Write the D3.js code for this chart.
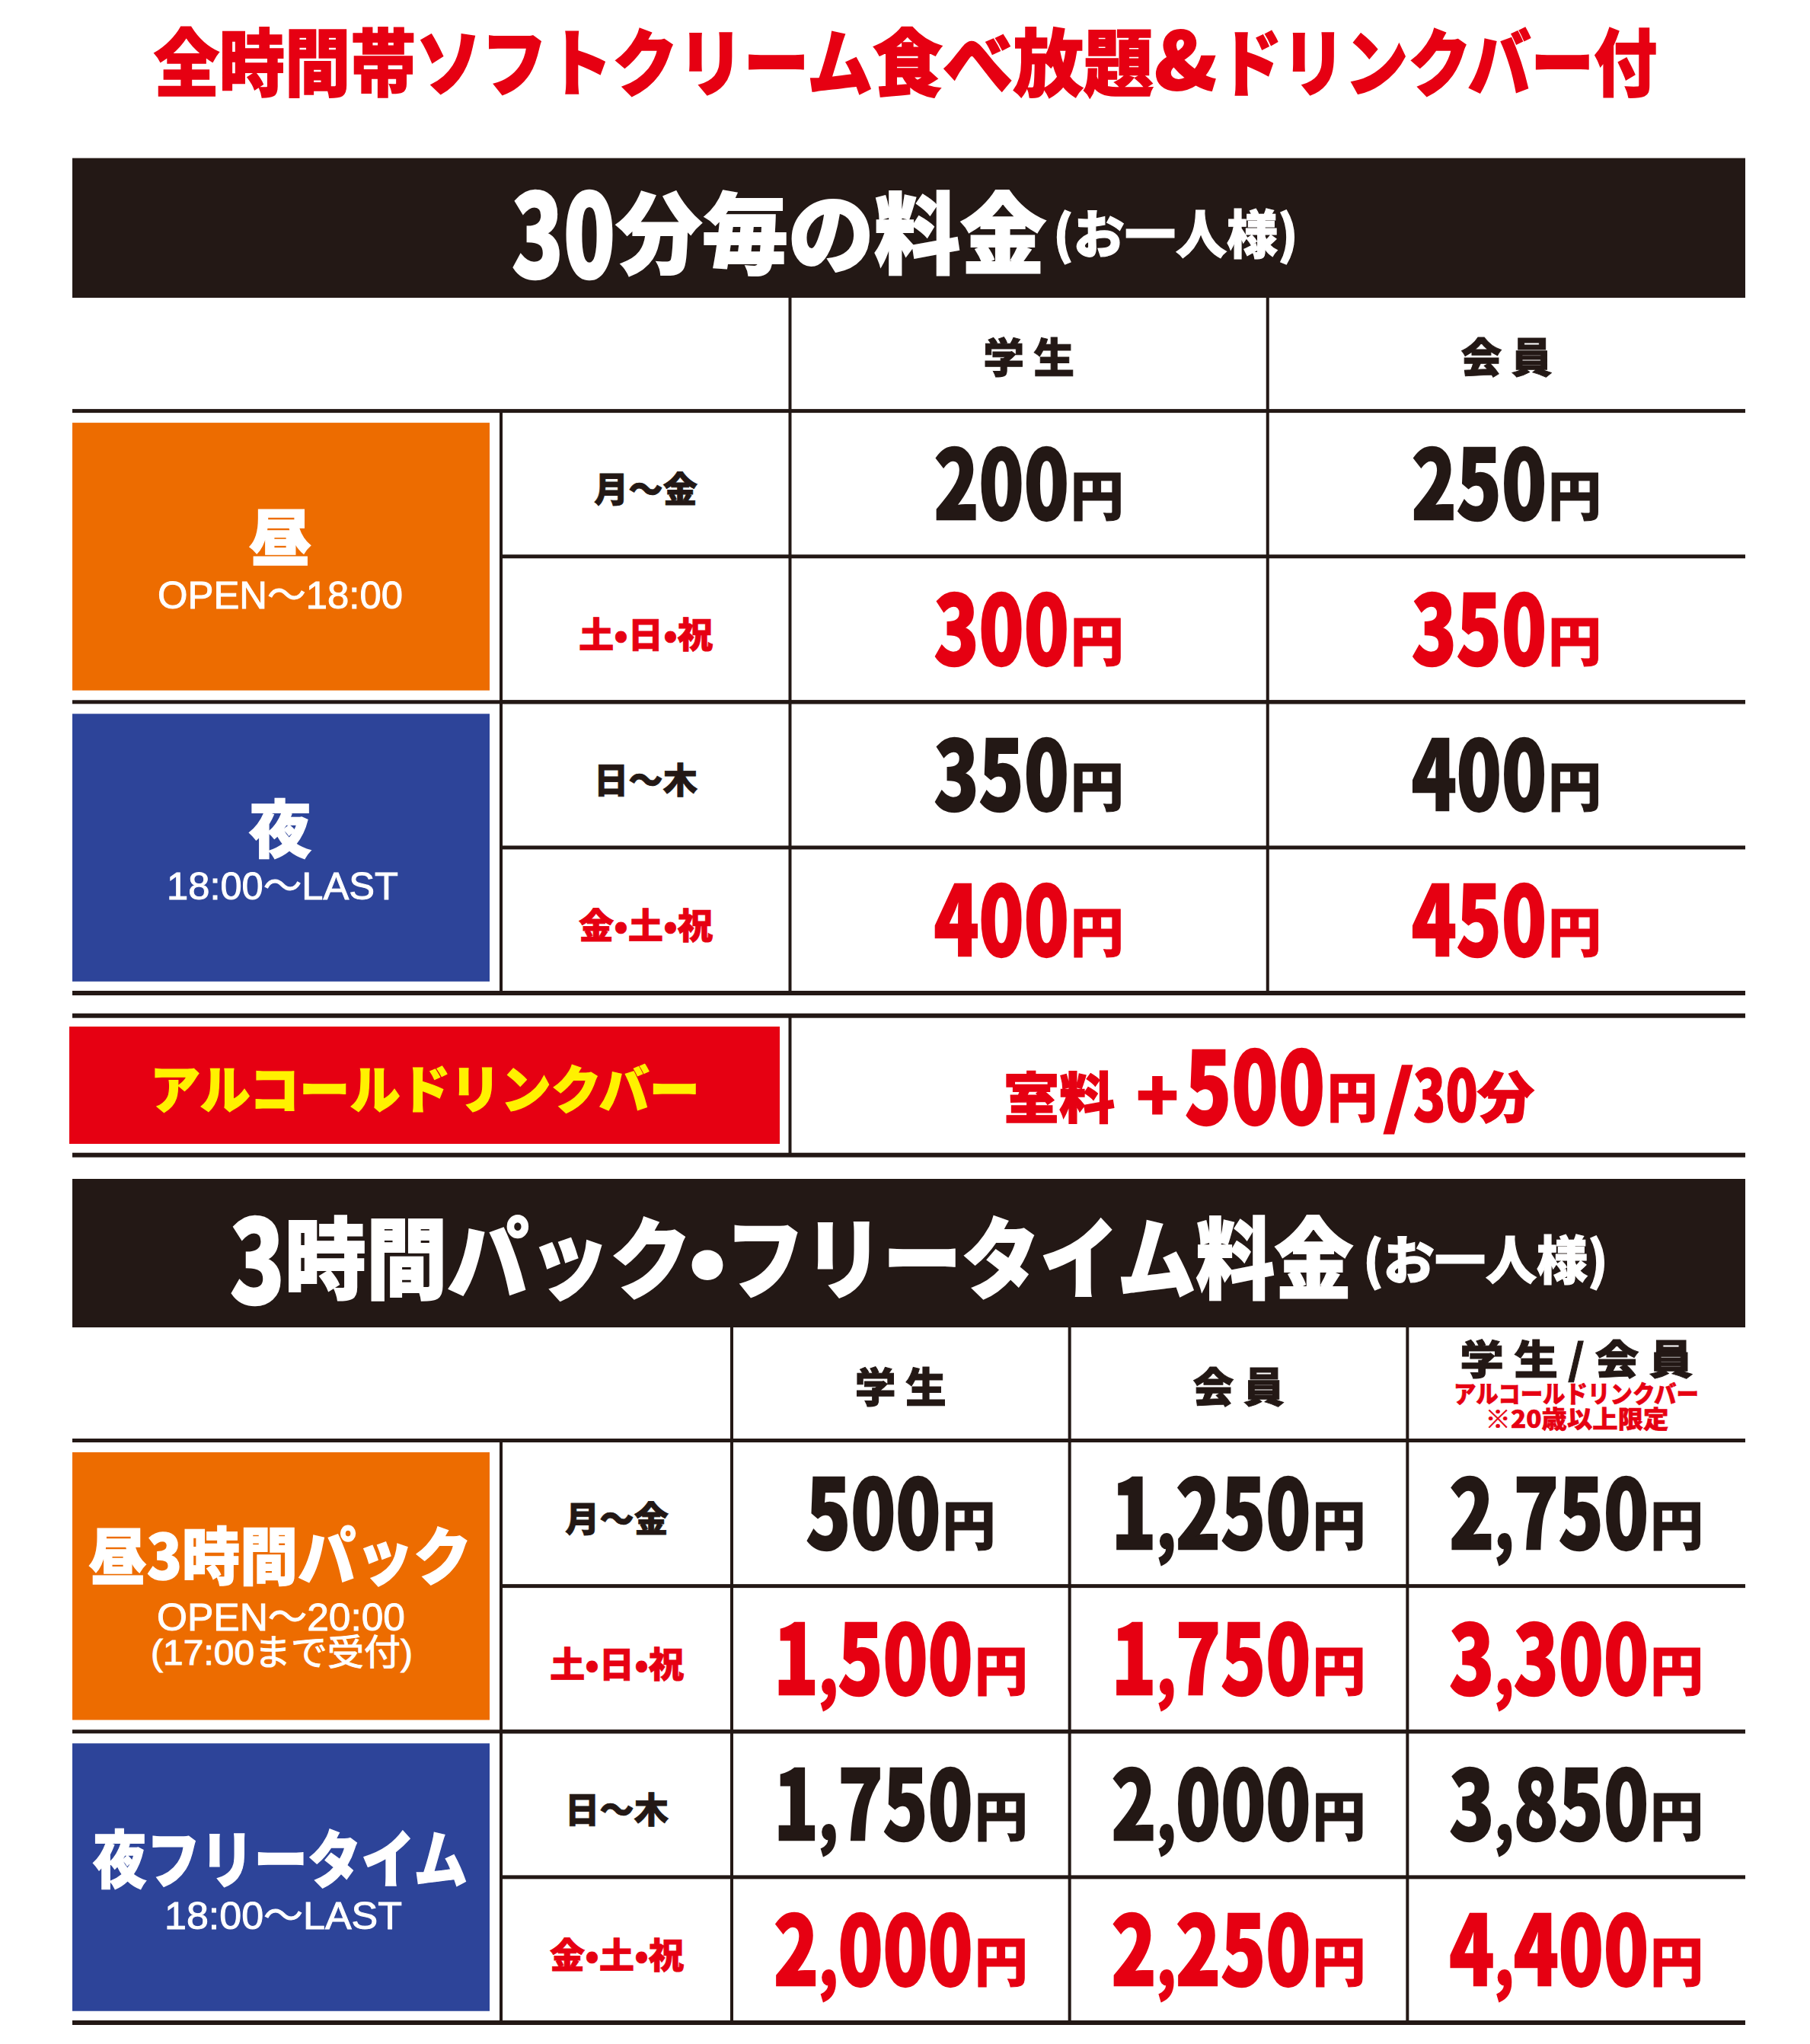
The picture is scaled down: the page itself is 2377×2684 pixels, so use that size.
<!DOCTYPE html>
<html lang="ja">
<head>
<meta charset="utf-8">
<script src="https://cdn.jsdelivr.net/npm/d3@7"></script>
<style>
  body { margin: 0; background: #fff; }
  text { font-family: "Noto Sans CJK JP", "Noto Sans CJK SC", sans-serif; font-weight: 900; }
  text.plain { font-family: "Liberation Sans", "Noto Sans CJK JP", sans-serif; font-weight: 400; }
</style>
</head>
<body>
<script>
const dayLabels = ['月～金', '土•日•祝', '日～木', '金•土•祝'];
const halfHourColumns = ['学 生', '会 員'];
const halfHourStudent = [200, 300, 350, 400];
const halfHourMember = [250, 350, 400, 450];
const packColumns = ['学 生', '会 員', '学 生 / 会 員'];
const packStudent = [500, 1500, 1750, 2000];
const packMember = [1250, 1750, 2000, 2250];
const packAlcohol = [2750, 3300, 3850, 4400];
const weekendRow = [false, true, false, true];

const W = 2377, H = 2684;
const BLACK = '#231815', RED = '#e60012', ORANGE = '#ed6c00', BLUE = '#2d4499', YELLOW = '#fff100';
const LEFT = 95, RIGHT = 2292, LABEL_X = 658;

const svg = d3.select('body').append('svg').attr('width', W).attr('height', H)
  .attr('viewBox', [0, 0, W, H]).style('display', 'block');

const rowA = d3.scaleBand().domain(d3.range(4)).range([539.6, 1304]);
const rowB = d3.scaleBand().domain(d3.range(4)).range([1891.5, 2656]);
const colA = d3.scaleBand().domain(halfHourColumns).range([1037.5, RIGHT]);
const colB = d3.scaleBand().domain(packColumns).range([961, RIGHT]);

const fmt = d3.format(',');

// heavy text squeezed sideways to a given width
function put(s, x, y, size, fill, width, anchor, cls) {
  const t = svg.append('text').text(s)
    .attr('class', cls || null)
    .attr('font-size', size).attr('fill', fill)
    .attr('stroke', fill).attr('stroke-width', cls ? 1 : size * 0.018)
    .attr('text-anchor', anchor || 'middle');
  const k = width ? width / t.node().getComputedTextLength() : 1;
  t.attr('transform', `translate(${x},${y}) scale(${k},1)`);
  return t;
}
// the thin opening-hours lines
function thin(s, x, y, size, width) {
  return put(s, x, y, size, '#fff', width, 'middle', 'plain');
}

function rect(x, y, w, h, fill) {
  svg.append('rect').attr('x', x).attr('y', y).attr('width', w).attr('height', h).attr('fill', fill);
}
function hline(x0, x1, y, t) { rect(x0, y - t / 2, x1 - x0, t, BLACK); }
function vline(x, y0, y1) { rect(x - 2, y0, 4, y1 - y0, BLACK); }

// squeezed digits followed by a plain 円
function price(value, cx, base, fill) {
  const k = 0.77, gap = 2;
  const num = svg.append('text').attr('font-size', 126).attr('fill', fill)
    .attr('stroke', fill).attr('stroke-width', 2.4);
  fmt(value).split(/(,)/).forEach(part => {
    const span = num.append('tspan').text(part);
    if (part === ',') span.attr('font-size', 94);
  });
  const yen = svg.append('text').text('円').attr('font-size', 70).attr('fill', fill)
    .attr('stroke', fill).attr('stroke-width', 1);
  const nw = num.node().getComputedTextLength() * k;
  const yw = yen.node().getComputedTextLength();
  const x0 = cx - (nw + gap + yw) / 2;
  num.attr('transform', `translate(${x0},${base}) scale(${k},1)`);
  yen.attr('x', x0 + nw + gap).attr('y', base - 5);
}

function table(row, col, columns, labelX, series, headerTop) {
  const band = row.bandwidth();
  const bottom = row(3) + band;
  row.domain().forEach(i => hline(LABEL_X, RIGHT, row(i) + band, 5));
  hline(LEFT, RIGHT, row(0), 5);
  hline(LEFT, RIGHT, row(2), 5);
  hline(LEFT, RIGHT, bottom, 6);
  vline(LABEL_X, row(0), bottom);
  columns.forEach(c => vline(col(c), headerTop, bottom));

  rect(LEFT, row(0) + 15.5, 548, 351.5, ORANGE);
  rect(LEFT, row(2) + 15.5, 548, 351.5, BLUE);

  dayLabels.forEach((d, i) => {
    put(d, labelX, row(i) + 119, 46, weekendRow[i] ? RED : BLACK, weekendRow[i] ? 176 : 136);
  });
  series.forEach((vals, j) => {
    const cx = col(columns[j]) + col.bandwidth() / 2;
    vals.forEach((v, i) => price(v, cx, row(i) + 142, weekendRow[i] ? RED : BLACK));
  });
}

// title
put('全時間帯ソフトクリーム', 202, 118, 96, RED, 944, 'start');
put('食べ放題', 1146, 118, 96, RED, 369, 'start');
put('&', 1516, 118, 104, RED, 82, 'start');
put('ドリンクバー付', 1601, 118, 96, RED, 575, 'start');

// 30 minute table
rect(LEFT, 207.6, RIGHT - LEFT, 183.4, BLACK);
put('30', 672, 365, 152, '#fff', 136, 'start');
put('分毎の料金', 809, 350, 116, '#fff', 565, 'start');
put('(お一人様)', 1383, 333, 68, '#fff', 322, 'start');
table(rowA, colA, halfHourColumns, 848, [halfHourStudent, halfHourMember], 391);
halfHourColumns.forEach(c => put(c, colA(c) + colA.bandwidth() / 2, 490, 54, BLACK, 120));

put('昼', 368, 736, 82, '#fff');
thin('OPEN～18:00', 368, 799, 50, 322);
put('夜', 368, 1119, 82, '#fff');
thin('18:00～LAST', 371, 1181, 50, 304);

// alcohol row
hline(LEFT, RIGHT, 1333.7, 6);
hline(LEFT, RIGHT, 1516.7, 6);
vline(1037.5, 1333.7, 1516.7);
rect(91, 1348, 933, 154, RED);
put('アルコールドリンクバー', 197, 1456, 68, YELLOW, 722, 'start');
put('室料', 1318, 1468, 72, RED, 146, 'start');
put('+', 1492, 1472, 90, RED, 56, 'start');
put('500', 1556, 1476, 130, RED, 184, 'start');
put('円', 1743, 1467, 70, RED, 66, 'start');
put('/', 1816, 1472, 90, RED, 42, 'start');
put('30', 1856, 1473, 94, RED, 85, 'start');
put('分', 1940, 1467, 72, RED, 75, 'start');

// pack table
rect(LEFT, 1548, RIGHT - LEFT, 195, BLACK);
put('3', 302, 1712, 152, '#fff', 72, 'start');
put('時間パック', 374, 1696, 116, '#fff', 534, 'start');
put('•', 929, 1696, 116, '#fff', 50);
put('フリータイム料金', 953, 1696, 116, '#fff', 824, 'start');
put('(お一人様)', 1790, 1680, 68, '#fff', 322, 'start');
table(rowB, colB, packColumns, 810, [packStudent, packMember, packAlcohol], 1743);
put(packColumns[0], colB(packColumns[0]) + colB.bandwidth() / 2, 1842, 54, BLACK, 120);
put(packColumns[1], colB(packColumns[1]) + colB.bandwidth() / 2, 1842, 54, BLACK, 120);
put(packColumns[2], colB(packColumns[2]) + colB.bandwidth() / 2, 1805, 54, BLACK, 306);
put('アルコールドリンクバー', 2070, 1842, 32, RED, 322);
put('※20歳以上限定', 2071, 1875, 32, RED, 241);

put('昼3時間パック', 368, 2074, 82, '#fff', 503);
thin('OPEN～20:00', 369, 2141, 50, 326);
thin('(17:00まで受付)', 370, 2186, 47, 344);
put('夜フリータイム', 368, 2472, 82, '#fff', 492);
thin('18:00～LAST', 372, 2533, 50, 312);
</script>
</body>
</html>
